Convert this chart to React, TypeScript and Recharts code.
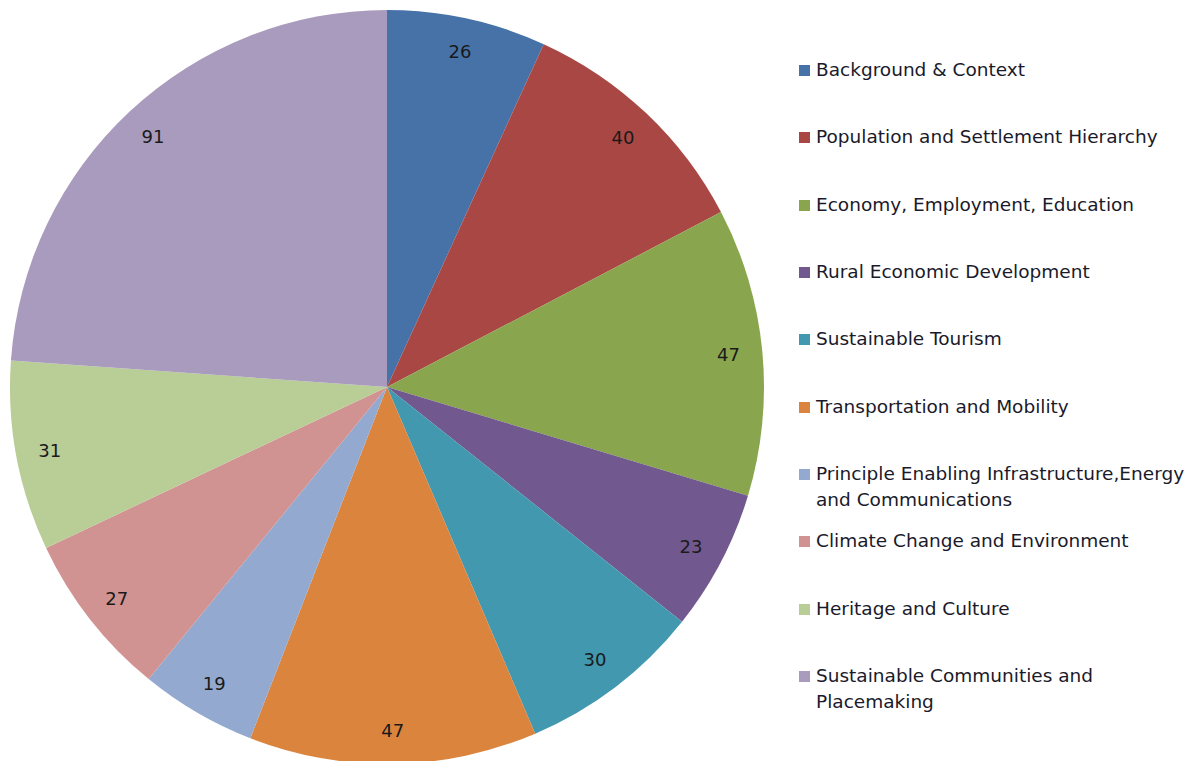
import { PieChart, Pie, Cell, Legend } from 'recharts';

const categories = [
  'Background & Context',
  'Population and Settlement Hierarchy',
  'Economy, Employment, Education',
  'Rural Economic Development',
  'Sustainable Tourism',
  'Transportation and Mobility',
  'Principle Enabling Infrastructure,Energy and Communications',
  'Climate Change and Environment',
  'Heritage and Culture',
  'Sustainable Communities and Placemaking',
];

// legend text broken into lines as in the original
const legendLines = [
  ['Background & Context'],
  ['Population and Settlement Hierarchy'],
  ['Economy, Employment, Education'],
  ['Rural Economic Development'],
  ['Sustainable Tourism'],
  ['Transportation and Mobility'],
  ['Principle Enabling Infrastructure,Energy', 'and Communications'],
  ['Climate Change and Environment'],
  ['Heritage and Culture'],
  ['Sustainable Communities and', 'Placemaking'],
];

const counts = [26, 40, 47, 23, 30, 47, 19, 27, 31, 91];

const colors = [
  '#4672A8',
  '#A94744',
  '#89A54E',
  '#71588F',
  '#4198AF',
  '#DB843D',
  '#93A9CF',
  '#D19392',
  '#B9CD96',
  '#A99BBD',
];

const data = categories.map((name, i) => ({ name, value: counts[i] }));

const FONT = '"DejaVu Sans", sans-serif';
const RAD = Math.PI / 180;

// number labels sit inside each slice, near the rim
function renderLabel(props: any) {
  const { cx, cy, midAngle, outerRadius, value } = props;
  const r = outerRadius * 0.91;
  const x = cx + r * Math.cos(-midAngle * RAD);
  const y = cy + r * Math.sin(-midAngle * RAD);
  return (
    <text x={x} y={y} textAnchor="middle" dominantBaseline="central" fontFamily={FONT} fontSize={18} fill="#1a1a1a">
      {value}
    </text>
  );
}

function renderLegend() {
  return (
    <div style={{ position: 'relative', width: 390, height: 761, fontFamily: FONT, fontSize: 18.5, color: '#1a1a2a' }}>
      {legendLines.map((lines, i) => (
        <div key={i} style={{ position: 'absolute', left: 0, top: 57 + i * 67.33, display: 'flex' }}>
          <div style={{ width: 11, height: 11, marginTop: 8, marginRight: 6, background: colors[i] }} />
          <div style={{ lineHeight: '26px', whiteSpace: 'nowrap' }}>
            {lines.map((l, j) => (
              <div key={j}>{l}</div>
            ))}
          </div>
        </div>
      ))}
    </div>
  );
}

export default function App() {
  return (
    <div style={{ position: 'absolute', left: 0, top: 0, background: '#fff', overflow: 'hidden', width: 1188, height: 761 }}>
      <PieChart width={1188} height={761} margin={{ top: 0, right: 0, bottom: 0, left: 0 }}>
        <Pie
          data={data}
          dataKey="value"
          nameKey="name"
          cx={387}
          cy={387}
          outerRadius={377}
          startAngle={90}
          endAngle={-270}
          stroke="none"
          label={renderLabel}
          labelLine={false}
          isAnimationActive={false}
        >
          {data.map((_, i) => (
            <Cell key={i} fill={colors[i]} />
          ))}
        </Pie>
        <Legend
          content={renderLegend}
          wrapperStyle={{ position: 'absolute', left: 799, top: 0, width: 390, height: 761 }}
        />
      </PieChart>
    </div>
  );
}
